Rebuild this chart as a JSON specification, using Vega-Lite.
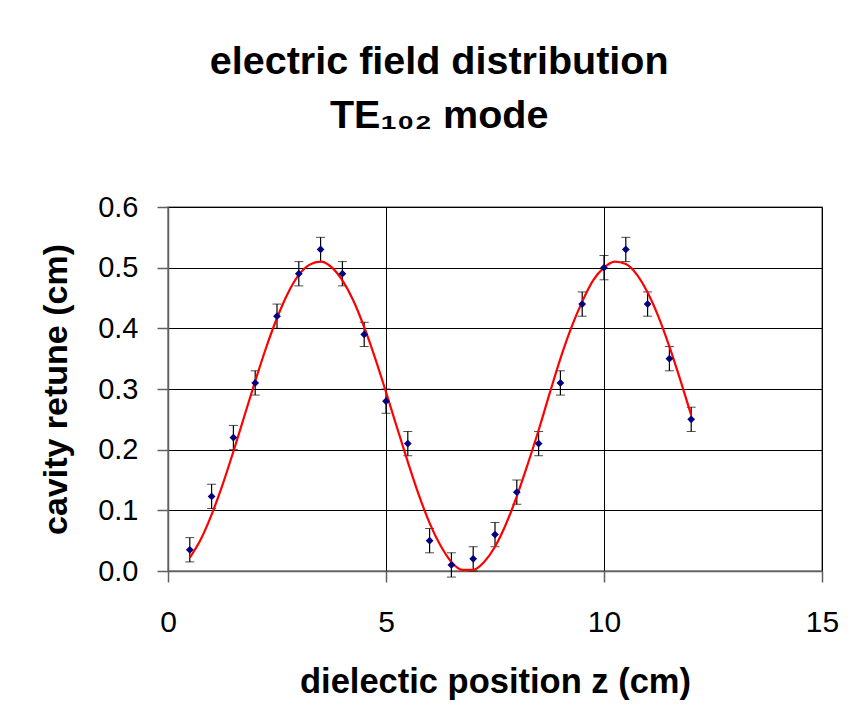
{
  "$schema": "https://vega.github.io/schema/vega-lite/v6.json",
  "autosize": {"type": "none"},
  "width": 654,
  "height": 364,
  "padding": {"left": 168, "top": 207, "right": 34, "bottom": 155},
  "background": "white",
  "title": {
    "text": ["electric field distribution", "TE₁₀₂ mode"],
    "font": "Liberation Sans",
    "fontSize": 39.5,
    "fontWeight": "bold",
    "color": "black",
    "anchor": "middle",
    "frame": "bounds",
    "lineHeight": 54,
    "offset": 57
  },
  "config": {
    "view": {"stroke": "#808080", "strokeWidth": 1.5},
    "axis": {
      "labelFont": "Liberation Sans",
      "titleFont": "Liberation Sans",
      "labelColor": "black",
      "titleColor": "black",
      "gridColor": "black",
      "gridOpacity": 1,
      "gridWidth": 1,
      "domainColor": "#606060",
      "domainWidth": 1.5,
      "tickColor": "#606060",
      "tickWidth": 1.5,
      "tickSize": 11
    }
  },
  "datasets": {
    "meas": [
      {"z": 0.5, "v": 0.035, "lo": 0.015, "hi": 0.055},
      {"z": 1.0, "v": 0.123, "lo": 0.103, "hi": 0.143},
      {"z": 1.5, "v": 0.22, "lo": 0.20, "hi": 0.24},
      {"z": 2.0, "v": 0.31, "lo": 0.29, "hi": 0.33},
      {"z": 2.5, "v": 0.42, "lo": 0.40, "hi": 0.44},
      {"z": 3.0, "v": 0.49, "lo": 0.47, "hi": 0.51},
      {"z": 3.5, "v": 0.53, "lo": 0.51, "hi": 0.55},
      {"z": 4.0, "v": 0.49, "lo": 0.47, "hi": 0.51},
      {"z": 4.5, "v": 0.39, "lo": 0.37, "hi": 0.41},
      {"z": 5.0, "v": 0.28, "lo": 0.26, "hi": 0.30},
      {"z": 5.5, "v": 0.21, "lo": 0.19, "hi": 0.23},
      {"z": 6.0, "v": 0.05, "lo": 0.03, "hi": 0.07},
      {"z": 6.5, "v": 0.01, "lo": -0.01, "hi": 0.03},
      {"z": 7.0, "v": 0.02, "lo": 0.00, "hi": 0.04},
      {"z": 7.5, "v": 0.06, "lo": 0.04, "hi": 0.08},
      {"z": 8.0, "v": 0.13, "lo": 0.11, "hi": 0.15},
      {"z": 8.5, "v": 0.21, "lo": 0.19, "hi": 0.23},
      {"z": 9.0, "v": 0.31, "lo": 0.29, "hi": 0.33},
      {"z": 9.5, "v": 0.44, "lo": 0.42, "hi": 0.46},
      {"z": 10.0, "v": 0.50, "lo": 0.48, "hi": 0.52},
      {"z": 10.5, "v": 0.53, "lo": 0.51, "hi": 0.55},
      {"z": 11.0, "v": 0.44, "lo": 0.42, "hi": 0.46},
      {"z": 11.5, "v": 0.35, "lo": 0.33, "hi": 0.37},
      {"z": 12.0, "v": 0.25, "lo": 0.23, "hi": 0.27}
    ],
    "fit": [
      {"z": 0.5, "f": 0.022},
      {"z": 0.75, "f": 0.052},
      {"z": 1.0, "f": 0.093},
      {"z": 1.25, "f": 0.142},
      {"z": 1.5, "f": 0.197},
      {"z": 1.75, "f": 0.255},
      {"z": 2.0, "f": 0.313},
      {"z": 2.25, "f": 0.368},
      {"z": 2.5, "f": 0.417},
      {"z": 2.75, "f": 0.458},
      {"z": 3.0, "f": 0.488},
      {"z": 3.25, "f": 0.505},
      {"z": 3.5, "f": 0.510},
      {"z": 3.75, "f": 0.501},
      {"z": 4.0, "f": 0.479},
      {"z": 4.25, "f": 0.446},
      {"z": 4.5, "f": 0.402},
      {"z": 4.75, "f": 0.351},
      {"z": 5.0, "f": 0.295},
      {"z": 5.25, "f": 0.237},
      {"z": 5.5, "f": 0.180},
      {"z": 5.75, "f": 0.126},
      {"z": 6.0, "f": 0.079},
      {"z": 6.25, "f": 0.042},
      {"z": 6.5, "f": 0.015},
      {"z": 6.75, "f": 0.002},
      {"z": 7.0, "f": 0.002},
      {"z": 7.25, "f": 0.015},
      {"z": 7.5, "f": 0.040},
      {"z": 7.75, "f": 0.077},
      {"z": 8.0, "f": 0.123},
      {"z": 8.25, "f": 0.176},
      {"z": 8.5, "f": 0.232},
      {"z": 8.75, "f": 0.292},
      {"z": 9.0, "f": 0.350},
      {"z": 9.25, "f": 0.401},
      {"z": 9.5, "f": 0.444},
      {"z": 9.75, "f": 0.479},
      {"z": 10.0, "f": 0.500},
      {"z": 10.25, "f": 0.510},
      {"z": 10.5, "f": 0.506},
      {"z": 10.75, "f": 0.489},
      {"z": 11.0, "f": 0.459},
      {"z": 11.25, "f": 0.419},
      {"z": 11.5, "f": 0.370},
      {"z": 11.75, "f": 0.315},
      {"z": 12.0, "f": 0.257}
    ]
  },
  "layer": [
    {
      "data": {"name": "meas"},
      "mark": {"type": "errorbar", "ticks": {"size": 9, "color": "black", "strokeWidth": 1.2}, "rule": {"color": "black", "strokeWidth": 1.2}},
      "encoding": {
        "x": {
          "field": "z", "type": "quantitative",
          "scale": {"domain": [0, 15], "nice": false},
          "axis": {
            "values": [0, 5, 10, 15],
            "labelFontSize": 30,
            "labelPadding": 25,
            "labelFlush": false,
            "title": "dielectic position z (cm)",
            "titleFontSize": 34.5,
            "titleFontWeight": "bold",
            "titlePadding": 28,
            "grid": true
          }
        },
        "y": {
          "field": "lo", "type": "quantitative",
          "scale": {"domain": [0, 0.6], "nice": false},
          "axis": {
            "values": [0, 0.1, 0.2, 0.3, 0.4, 0.5, 0.6],
            "format": ".1f",
            "labelFontSize": 29,
            "labelPadding": 19,
            "labelFlush": false,
            "title": "cavity retune (cm)",
            "titleFontSize": 34,
            "titleFontWeight": "bold",
            "titlePadding": 24,
            "grid": true
          }
        },
        "y2": {"field": "hi"}
      }
    },
    {
      "data": {"name": "fit"},
      "mark": {"type": "line", "color": "#FF0000", "strokeWidth": 2.2, "interpolate": "monotone", "clip": true},
      "encoding": {
        "x": {"field": "z", "type": "quantitative"},
        "y": {"field": "f", "type": "quantitative"}
      }
    },
    {
      "data": {"name": "meas"},
      "mark": {"type": "point", "shape": "diamond", "filled": true, "color": "#000080", "size": 60, "opacity": 1},
      "encoding": {
        "x": {"field": "z", "type": "quantitative"},
        "y": {"field": "v", "type": "quantitative"}
      }
    }
  ]
}
